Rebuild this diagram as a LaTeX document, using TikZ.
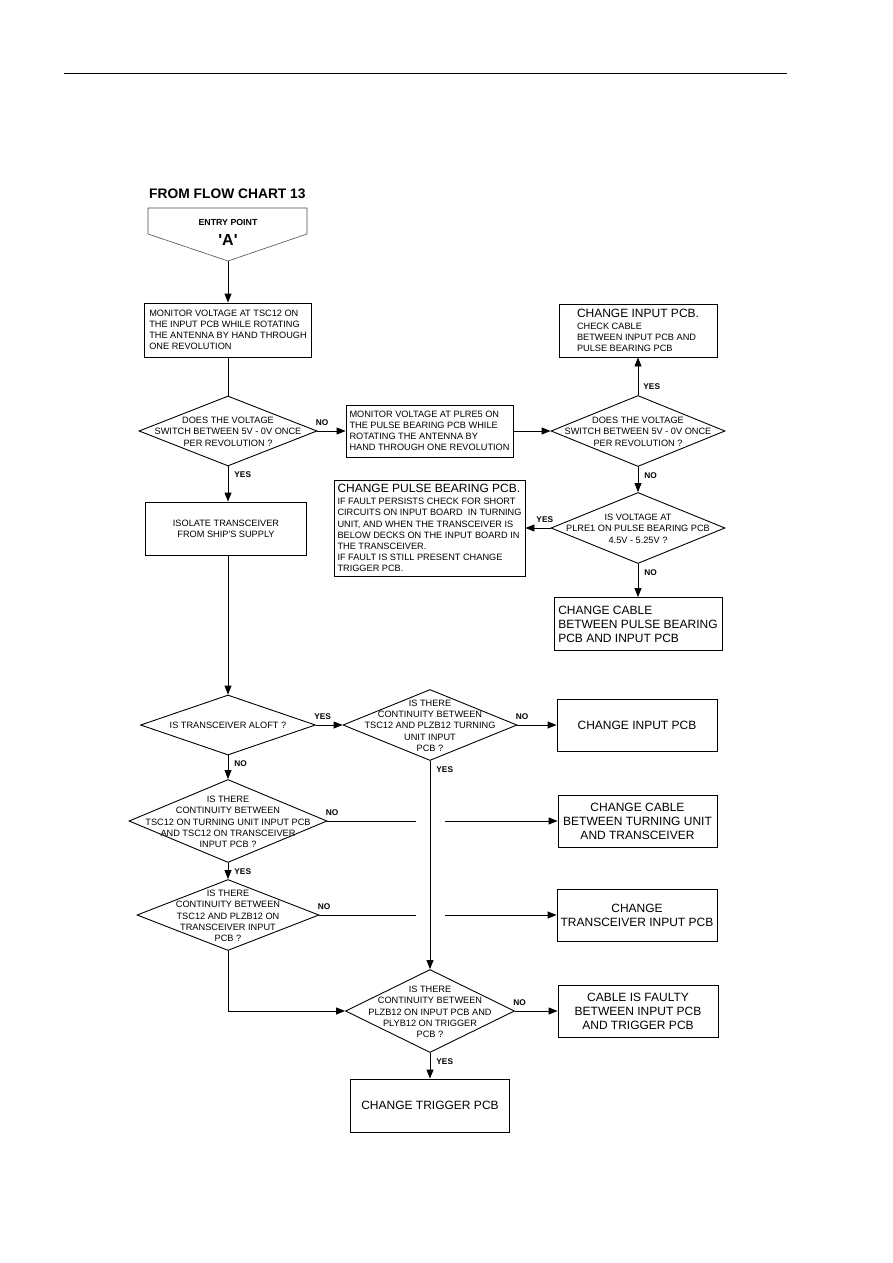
\documentclass[tikz,border=0pt]{standalone}
\usepackage{fontspec}
\setmainfont{Liberation Sans}
\usetikzlibrary{shapes.geometric, arrows.meta}

\newcommand{\dtxt}[1]{\makebox[0pt]{\smash{\raisebox{-4pt}{\begin{tabular}{@{}c@{}}#1\end{tabular}}}}}
\newcommand{\bigtxt}{\fontsize{12}{14}\selectfont}

\begin{document}
\begin{tikzpicture}[
    x=1pt, y=-1pt, >={Triangle[length=9pt,width=7pt]},
    every node/.style={font=\fontsize{9.2}{11.2}\selectfont},
    box/.style={draw, line width=0.9pt, rectangle, inner sep=1pt},
    bigbox/.style={box, align=center, font=\bigtxt},
    decision/.style={draw, line width=0.9pt, diamond, inner sep=0pt},
    lbl/.style={font=\fontsize{8.3}{10}\bfseries\selectfont, inner sep=0pt},
    lblright/.style={lbl, at start, anchor=south west, xshift=-2pt, yshift=5pt},
    lbldown/.style={lbl, at start, anchor=north west, xshift=6pt, yshift=-5pt},
    lblup/.style={lbl, at start, anchor=south west, xshift=5pt, yshift=5pt},
    lblleft/.style={lbl, at start, anchor=south east, xshift=3pt, yshift=5pt},
    every edge/.style={draw, line width=0.9pt}
]
    \fill[white] (0,0) rectangle (893,1263);
    \useasboundingbox (0,0) rectangle (893,1263);
    \draw[line width=1pt] (64,73) -- (787,73);

    % entry point
    \node[anchor=west, inner sep=0pt, font=\fontsize{13.8}{16}\bfseries\selectfont] (title) at (149,194) {FROM FLOW CHART 13};
    \draw[line width=0.6pt, black!70] (148,208) -- (307,208) -- (307,234) -- (228,261) -- (148,234) -- cycle;
    \coordinate (entry) at (228,261);
    \node[font=\fontsize{8.8}{10}\bfseries\selectfont] (entrytxt) at (228,222) {ENTRY POINT};
    \node[font=\fontsize{16}{18}\bfseries\selectfont] (entryA) at (228,240) {\textquotesingle A\textquotesingle};

    % upper part
    \node[box, align=left, minimum width=167, minimum height=54] (mon1) at (228,330)
        {MONITOR VOLTAGE AT TSC12 ON\\THE INPUT PCB WHILE ROTATING\\THE ANTENNA BY HAND THROUGH\\ONE REVOLUTION};
    \node[decision, minimum width=178, minimum height=70] (d1) at (228,431)
        {\dtxt{DOES THE VOLTAGE\\SWITCH BETWEEN 5V - 0V ONCE\\PER REVOLUTION ?}};
    \node[box, align=left, minimum width=167, minimum height=52] (mon2) at (429.5,431)
        {MONITOR VOLTAGE AT PLRE5 ON\\THE PULSE BEARING PCB WHILE\\ROTATING THE ANTENNA BY\\HAND THROUGH ONE REVOLUTION};
    \node[decision, minimum width=174, minimum height=71] (d3) at (638,431)
        {\dtxt{DOES THE VOLTAGE\\SWITCH BETWEEN 5V - 0V ONCE\\PER REVOLUTION ?}};
    \node[box, align=left, minimum width=158, minimum height=53] (chin) at (638,330.5)
        {{\bigtxt CHANGE INPUT PCB.}\\[1pt]CHECK CABLE\\BETWEEN INPUT PCB AND\\PULSE BEARING PCB};
    \node[decision, minimum width=174, minimum height=71] (d4) at (638,528)
        {\dtxt{IS VOLTAGE AT\\PLRE1 ON PULSE BEARING PCB\\4.5V - 5.25V ?}};
    \node[box, align=left, minimum width=191, minimum height=96] (pulse) at (429.5,528)
        {{\bigtxt CHANGE PULSE BEARING PCB.}\\[1pt]IF FAULT PERSISTS CHECK FOR SHORT\\CIRCUITS ON INPUT BOARD\ \ IN TURNING\\UNIT, AND WHEN THE TRANSCEIVER IS\\BELOW DECKS ON THE INPUT BOARD IN\\THE TRANSCEIVER.\\IF FAULT IS STILL PRESENT CHANGE\\TRIGGER PCB.};
    \node[bigbox, align=left, minimum width=168, minimum height=53] (cab1) at (638,624)
        {CHANGE CABLE\\BETWEEN PULSE BEARING\\PCB AND INPUT PCB};
    \node[box, align=center, minimum width=161, minimum height=53] (isol) at (226,528.5)
        {ISOLATE TRANSCEIVER\\FROM SHIP\textquotesingle S SUPPLY};

    % lower part
    \node[decision, minimum width=175, minimum height=60] (d5) at (228,725)
        {\dtxt{IS TRANSCEIVER ALOFT ?}};
    \node[decision, minimum width=174, minimum height=71] (d6) at (430,725)
        {\dtxt{IS THERE\\CONTINUITY BETWEEN\\TSC12 AND PLZB12 TURNING\\UNIT INPUT\\PCB ?}};
    \node[bigbox, minimum width=160, minimum height=52] (chip2) at (637,725) {CHANGE INPUT PCB};
    \node[decision, minimum width=198, minimum height=83] (d7) at (228,821)
        {\dtxt{IS THERE\\CONTINUITY BETWEEN\\TSC12 ON TURNING UNIT INPUT PCB\\AND TSC12 ON TRANSCEIVER\\INPUT PCB ?}};
    \node[bigbox, minimum width=159, minimum height=52] (cab2) at (637.5,821)
        {CHANGE CABLE\\BETWEEN TURNING UNIT\\AND TRANSCEIVER};
    \node[decision, minimum width=182, minimum height=71] (d8) at (228,915)
        {\dtxt{IS THERE\\CONTINUITY BETWEEN\\TSC12 AND PLZB12 ON\\TRANSCEIVER INPUT\\PCB ?}};
    \node[bigbox, minimum width=160, minimum height=52] (trip) at (637,915)
        {CHANGE\\TRANSCEIVER INPUT PCB};
    \node[decision, minimum width=169, minimum height=83] (d9) at (430,1011)
        {\dtxt{IS THERE\\CONTINUITY BETWEEN\\PLZB12 ON INPUT PCB AND\\PLYB12 ON TRIGGER\\PCB ?}};
    \node[bigbox, minimum width=160, minimum height=52] (fault) at (638,1011)
        {CABLE IS FAULTY\\BETWEEN INPUT PCB\\AND TRIGGER PCB};
    \node[bigbox, minimum width=159, minimum height=53] (trig) at (430,1105.5) {CHANGE TRIGGER PCB};

    \coordinate (gap1a) at (416,821);
    \coordinate (gap1b) at (445,821);
    \coordinate (gap2a) at (416,915);
    \coordinate (gap2b) at (445,915);

    \path[->]
        (entry)      edge (mon1)
        (mon1)       edge[-] (d1)
        (d1.east)    edge node[lblright]{NO} (mon2.west)
        (mon2.east)  edge (d3.west)
        (d3.north)   edge node[lblup]{YES} (chin.south)
        (d3.south)   edge node[lbldown]{NO} (d4.north)
        (d4.west)    edge node[lblleft]{YES} (pulse.east)
        (d4.south)   edge node[lbldown]{NO} (cab1.north)
        (d1.south)   edge node[lbldown]{YES} (isol.north -| d1.south)
        (isol.south -| d1.south) edge (d5.north)
        (d5.east)    edge node[lblright]{YES} (d6.west)
        (d6.east)    edge node[lblright]{NO} (chip2.west)
        (d6.south)   edge node[lbldown]{YES} (d9.north)
        (d5.south)   edge node[lbldown]{NO} (d7.north)
        (d7.east)    edge[-] node[lblright]{NO} (gap1a)
        (gap1b)      edge (cab2.west)
        (d7.south)   edge node[lbldown]{YES} (d8.north)
        (d8.east)    edge[-] node[lblright]{NO} (gap2a)
        (gap2b)      edge (trip.west)
        (d8.south)   edge[to path={|- (\tikztotarget)}] node[lbldown]{YES} (d9.west)
        (d9.east)    edge node[lblright]{NO} (fault.west)
        (d9.south)   edge node[lbldown]{YES} (trig.north);
\end{tikzpicture}
\end{document}
